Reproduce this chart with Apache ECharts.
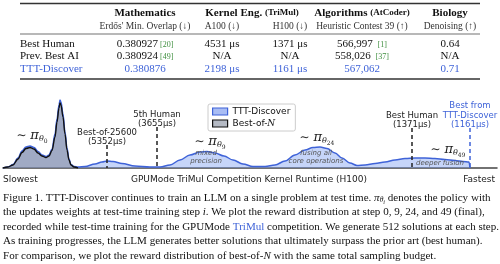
<!DOCTYPE html>
<html>
<head>
<meta charset="utf-8">
<script src="https://cdn.jsdelivr.net/npm/echarts@6/dist/echarts.min.js"></script>
<style>
html, body { margin: 0; padding: 0; background: #fff; }
#main { width: 500px; height: 264px; }
</style>
</head>
<body>
<div id="main"></div>
<script>
// table values
var rowLabels = ['Best Human', 'Prev. Best AI', 'TTT-Discover'];
var mathVals = ['0.380927', '0.380924', '0.380876'];
var mathRefs = ['[20]', '[49]', ''];
var a100Vals = ['4531 μs', 'N/A', '2198 μs'];
var h100Vals = ['1371 μs', 'N/A', '1161 μs'];
var algoVals = ['566,997', '558,026', '567,062'];
var algoRefs = ['[1]', '[37]', ''];
var bioVals = ['0.64', 'N/A', '0.71'];

// reward distributions, [position on runtime axis, density]
var tttDiscover = [[3, 0], [8, 1], [13, 3.5], [18, 10], [22, 17], [26, 21], [30, 22], [34, 20.5], [38, 16.5], [42, 13],
    [46, 11.5], [49, 13], [52, 19], [55, 34], [57, 49], [59, 63], [60, 68], [61, 66], [63, 54], [65, 36],
    [67, 20], [69, 9], [71, 3.5], [74, 1.5], [78, 1], [85, 1.5], [95, 4], [102, 6], [107, 7], [113, 6.5],
    [122, 4.5], [135, 2], [150, 1], [160, 1], [170, 3], [180, 8], [190, 13], [200, 16], [207, 16.5], [215, 15],
    [224, 12], [233, 8], [243, 4], [253, 1.5], [265, 1.5], [275, 3], [285, 7], [295, 13], [305, 18], [313, 20.5],
    [320, 21], [327, 19.5], [335, 15], [342, 10], [350, 5], [357, 2.5], [365, 3], [375, 4.5], [385, 6], [395, 8],
    [405, 9.5], [415, 10], [425, 10], [435, 9.5], [445, 8.5], [455, 7.5], [463, 6.5], [469, 6], [470, 0]];
var bestOfN = [[3, 0], [8, 1], [13, 3], [18, 9], [22, 15.5], [26, 19.5], [30, 20.5], [34, 19], [38, 15], [42, 12],
    [46, 10.5], [49, 12], [52, 17.5], [55, 31], [57, 46], [59, 60], [60, 65], [61, 63], [63, 51], [65, 34],
    [67, 18], [69, 8], [71, 3], [74, 1], [78, 0]];

// reference runtimes
var markerNames = ['Best-of-25600', '5th Human', 'Best Human', 'Best from\nTTT-Discover'];
var markerTimes = [5352, 3655, 1371, 1161];
var markerPos = [107, 157, 412, 470];
var markerTop = [23, 41, 40, 40];

var BLUE = '#3f63d8';
var SERIF = '"Liberation Serif", "DejaVu Serif", serif';
var SANS = '"DejaVu Sans", sans-serif';

var mathCol = 145, a100Col = 222, h100Col = 290, algoCol = 362, bioCol = 450;
var rowY = [44, 56.5, 69];

function txt(x, y, text, opt) {
    opt = opt || {};
    return {
        type: 'text', x: x, y: y, silent: true,
        style: {
            text: text,
            fill: opt.fill || '#111',
            font: opt.font || ('11px ' + SERIF),
            textAlign: opt.align || 'center',
            textVerticalAlign: 'middle',
            rich: opt.rich
        }
    };
}
function rule(y, w) {
    return { type: 'line', silent: true, shape: { x1: 20, y1: y, x2: 480, y2: y }, style: { stroke: '#333', lineWidth: w } };
}

var refRich = { r: { fontSize: 8, fill: '#3f8f3f', fontFamily: 'Liberation Serif', padding: [1, 0, 0, 2] } };
var headRich = { sc: { fontSize: 9, fontWeight: 'bold', fontFamily: 'Liberation Serif' } };

var graphics = [
    rule(3.5, 1.3), rule(34, 0.7), rule(79, 1.3),
    txt(mathCol, 13, 'Mathematics', { font: 'bold 11px ' + SERIF }),
    txt(252, 13, 'Kernel Eng. {sc|(TriMul)}', { font: 'bold 11px ' + SERIF, rich: headRich }),
    txt(algoCol, 13, 'Algorithms {sc|(AtCoder)}', { font: 'bold 11px ' + SERIF, rich: headRich }),
    txt(bioCol, 13, 'Biology', { font: 'bold 11px ' + SERIF }),
    txt(mathCol, 26, "Erdős' Min. Overlap (↓)", { font: '9.5px ' + SERIF, fill: '#333' }),
    txt(a100Col, 26, 'A100 (↓)', { font: '9.5px ' + SERIF, fill: '#333' }),
    txt(h100Col, 26, 'H100 (↓)', { font: '9.5px ' + SERIF, fill: '#333' }),
    txt(algoCol, 26, 'Heuristic Contest 39 (↑)', { font: '9.5px ' + SERIF, fill: '#333' }),
    txt(bioCol, 26, 'Denoising (↑)', { font: '9.5px ' + SERIF, fill: '#333' })
];
rowLabels.forEach(function(label, i) {
    var c = i === 2 ? BLUE : '#111';
    graphics.push(txt(20, rowY[i], label, { align: 'left', fill: c }));
    graphics.push(txt(mathCol, rowY[i], mathVals[i] + (mathRefs[i] ? '{r|' + mathRefs[i] + '}' : ''), { fill: c, rich: refRich }));
    graphics.push(txt(a100Col, rowY[i], a100Vals[i], { fill: c }));
    graphics.push(txt(h100Col, rowY[i], h100Vals[i], { fill: c }));
    graphics.push(txt(algoCol, rowY[i], algoVals[i] + (algoRefs[i] ? ' {r|' + algoRefs[i] + '}' : ''), { fill: c, rich: refRich }));
    graphics.push(txt(bioCol, rowY[i], bioVals[i], { fill: c }));
});

// axis captions
graphics.push(txt(3, 180, 'Slowest', { align: 'left', font: '9px ' + SANS, fill: '#222' }));
graphics.push(txt(249, 180, 'GPUMode TriMul Competition Kernel Runtime (H100)', { font: '9px ' + SANS, fill: '#222' }));
graphics.push(txt(495, 180, 'Fastest', { align: 'right', font: '9px ' + SANS, fill: '#222' }));

// figure caption
var capRich = {
    it: { fontStyle: 'italic', fontFamily: 'Liberation Serif', fontSize: 11.05 },
    sub: { fontStyle: 'italic', fontFamily: 'Liberation Serif', fontSize: 7.5, padding: [5, 0, 0, 0] },
    sub2: { fontStyle: 'italic', fontFamily: 'Liberation Serif', fontSize: 6, padding: [8, 0, 0, 0] },
    link: { fill: BLUE, fontFamily: 'Liberation Serif', fontSize: 11.05 }
};
var captionLines = [
    'Figure 1. TTT-Discover continues to train an LLM on a single problem at test time. {it|π}{sub|θ}{sub2|i} denotes the policy with',
    'the updates weights at test-time training step {it|i}. We plot the reward distribution at step 0, 9, 24, and 49 (final),',
    'recorded while test-time training for the GPUMode {link|TriMul} competition. We generate 512 solutions at each step.',
    'As training progresses, the LLM generates better solutions that ultimately surpass the prior art (best human).',
    'For comparison, we plot the reward distribution of best-of-{it|N} with the same total sampling budget.'
];
captionLines.forEach(function(line, i) {
    graphics.push(txt(3, 198 + i * 14.5, line, { align: 'left', rich: capRich, font: '11.05px ' + SERIF }));
});

var piRich = {
    t: { fontFamily: 'DejaVu Serif', fontSize: 12, color: '#222' },
    p: { fontFamily: 'DejaVu Serif', fontStyle: 'italic', fontSize: 13, color: '#222' },
    s: { fontFamily: 'DejaVu Serif', fontStyle: 'italic', fontSize: 8, color: '#222', padding: [6, 0, 0, 0] },
    ss: { fontFamily: 'DejaVu Serif', fontSize: 6, color: '#222', padding: [10, 0, 0, 0] }
};
function piLabel(step) {
    return '{t|∼ }{p|π}{s|θ}{ss|' + step + '}';
}
var noteStyle = { fontFamily: 'DejaVu Sans', fontStyle: 'italic', fontSize: 7, color: '#555', lineHeight: 8 };

var markLines = markerNames.map(function(name, i) {
    var c = i === 3 ? BLUE : '#222';
    return [{
        coord: [markerPos[i], markerTop[i]],
        lineStyle: { color: c, type: [4, 3], width: 1.5 },
        label: {
            show: true, position: 'start', distance: -2,
            formatter: name + '\n(' + markerTimes[i] + 'μs)',
            fontFamily: 'DejaVu Sans', fontSize: 8.5, lineHeight: 9.5, color: i === 3 ? BLUE : '#222', align: 'center'
        }
    }, { coord: [markerPos[i], 0] }];
});

var chart = echarts.init(document.getElementById('main'));
chart.setOption({
    animation: false,
    backgroundColor: '#fff',
    grid: { left: 3, right: 3, top: 88, bottom: 96 },
    xAxis: {
        type: 'value', min: 3, max: 497,
        axisLine: { show: true, lineStyle: { color: '#444', width: 1.5 } },
        axisTick: { show: false }, axisLabel: { show: false }, splitLine: { show: false }
    },
    yAxis: { type: 'value', min: 0, max: 80, show: false },
    legend: {
        left: 208, top: 104, orient: 'vertical',
        itemWidth: 15, itemHeight: 7, itemGap: 3,
        padding: [3, 5, 3, 4],
        borderColor: '#ccc', borderWidth: 1, borderRadius: 2, backgroundColor: '#fff',
        textStyle: { fontFamily: 'DejaVu Sans', fontSize: 9, color: '#111', rich: { i: { fontFamily: 'DejaVu Serif', fontStyle: 'italic', fontSize: 9 } } },
        formatter: function(name) { return name === 'Best-of-N' ? 'Best-of-{i|N}' : name; },
        data: [
            { name: 'TTT-Discover', icon: 'rect', itemStyle: { color: '#a9bdf4', borderColor: BLUE, borderWidth: 1.2 } },
            { name: 'Best-of-N', icon: 'rect', itemStyle: { color: '#b5bac4', borderColor: '#111', borderWidth: 1.2 } }
        ]
    },
    series: [{
        name: 'TTT-Discover', type: 'line', data: tttDiscover,
        smooth: 0.35, smoothMonotone: 'x', symbol: 'none',
        lineStyle: { color: BLUE, width: 1.5 },
        itemStyle: { color: BLUE },
        areaStyle: { color: 'rgba(120,155,240,0.6)' },
        markLine: { silent: true, symbol: 'none', data: markLines },
        markPoint: {
            silent: true, symbol: 'circle', symbolSize: 0,
            label: { show: true, position: 'inside' },
            data: [
                { coord: [32, 32], label: { formatter: piLabel(0), rich: piRich } },
                { coord: [210, 26], label: { formatter: piLabel(9), rich: piRich } },
                { coord: [317, 30], label: { formatter: piLabel(24), rich: piRich } },
                { coord: [448, 18], label: { formatter: piLabel(49), rich: piRich } },
                { coord: [206, 10.5], label: Object.assign({ formatter: 'mixed\nprecision' }, noteStyle) },
                { coord: [316, 10.5], label: Object.assign({ formatter: 'fusing all\ncore operations' }, noteStyle) },
                { coord: [440, 5], label: Object.assign({ formatter: 'deeper fusion' }, noteStyle) }
            ]
        },
        z: 2
    }, {
        name: 'Best-of-N', type: 'line', data: bestOfN,
        smooth: 0.35, smoothMonotone: 'x', symbol: 'none',
        lineStyle: { color: '#111', width: 1.4 },
        itemStyle: { color: '#9aa3b1' },
        areaStyle: { color: 'rgba(125,132,148,0.75)' },
        z: 3
    }],
    graphic: graphics
});
</script>
</body>
</html>
